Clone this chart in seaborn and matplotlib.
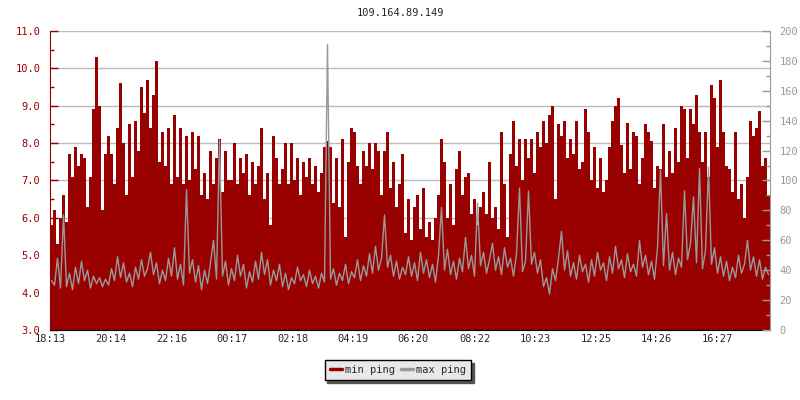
import matplotlib
matplotlib.use("Agg")
import matplotlib.pyplot as plt
import matplotlib.ticker as mticker
from matplotlib.lines import Line2D
import seaborn as sns
import numpy as np
import pandas as pd

title = '109.164.89.149'
start_time = '18:13'
time_ticks = ['18:13', '20:14', '22:16', '00:17', '02:18', '04:19',
              '06:20', '08:22', '10:23', '12:25', '14:26', '16:27']
step_min = 6  # minutes per sample

# min ping (left axis), one value per 6 minutes
min_ping = [
    5.8, 6.2, 5.3, 6.0, 6.6, 5.9, 7.7, 7.1, 7.9, 7.4,
    7.7, 7.6, 6.3, 7.1, 8.9, 10.3, 9.0, 6.2, 7.7, 8.2,
    7.7, 6.9, 8.4, 9.6, 8.0, 6.6, 8.5, 7.1, 8.6, 7.8,
    9.5, 8.8, 9.7, 8.4, 9.3, 10.2, 7.5, 8.3, 7.4, 8.4,
    6.9, 8.75, 7.1, 8.4, 6.9, 8.2, 7.0, 8.3, 7.3, 8.2,
    6.6, 7.2, 6.5, 7.8, 6.9, 7.6, 8.1, 6.7, 7.8, 7.0,
    7.0, 8.0, 6.9, 7.6, 7.2, 7.7, 6.6, 7.5, 6.9, 7.4,
    8.4, 6.5, 7.2, 5.8, 8.2, 7.6, 6.9, 7.3, 8.0, 6.9,
    8.0, 7.0, 7.6, 6.6, 7.5, 7.1, 7.6, 6.9, 7.4, 6.7,
    7.2, 7.9, 8.05, 7.9, 6.4, 7.6, 6.3, 8.1, 5.5, 7.5,
    8.4, 8.3, 7.4, 6.9, 7.8, 7.4, 8.0, 7.3, 8.0, 7.8,
    6.6, 7.8, 8.3, 6.8, 7.5, 6.3, 6.9, 7.7, 5.6, 6.5,
    5.4, 6.3, 6.6, 5.7, 6.8, 5.5, 5.9, 5.4, 6.0, 6.6,
    8.1, 7.5, 6.0, 6.9, 5.8, 7.3, 7.8, 6.6, 7.1, 7.2,
    6.1, 6.5, 5.8, 6.3, 6.7, 6.1, 7.5, 6.0, 6.3, 5.7,
    8.3, 6.9, 5.5, 7.7, 8.6, 7.4, 8.1, 7.0, 8.1, 7.6,
    8.1, 7.2, 8.3, 7.9, 8.6, 8.0, 8.75, 9.0, 6.5, 8.5,
    8.2, 8.6, 7.6, 8.1, 7.7, 8.6, 7.3, 7.5, 8.9, 8.3,
    7.0, 7.9, 6.8, 7.6, 6.7, 7.0, 7.9, 8.6, 9.0, 9.2,
    7.95, 7.2, 8.55, 7.3, 8.3, 8.2, 6.9, 7.6, 8.5, 8.3,
    8.05, 6.8, 7.4, 7.3, 8.5, 7.1, 7.8, 7.2, 8.4, 7.5,
    9.0, 8.9, 7.6, 8.9, 8.5, 9.3, 8.3, 7.5, 8.3, 7.1,
    9.55, 9.2, 7.9, 9.7, 8.3, 7.4, 7.3, 6.7, 8.3, 6.5,
    6.9, 6.0, 7.1, 8.6, 8.2, 8.4, 8.85, 7.4, 7.6, 6.6,
]

# max ping (right axis)
max_ping = [
    33, 30, 48, 28, 77, 29, 38, 27, 42, 31,
    46, 33, 40, 28, 36, 31, 35, 29, 34, 30,
    41, 33, 49, 35, 45, 32, 38, 29, 42, 34,
    47, 36, 41, 52, 37, 45, 31, 40, 33, 48,
    36, 55, 34, 44, 30, 94, 38, 47, 32, 43,
    27, 40, 31, 45, 60, 34, 127, 36, 46, 30,
    41, 33, 50, 36, 44, 28, 39, 32, 46, 34,
    52, 37, 47, 30, 40, 33, 44, 29, 38, 27,
    35, 31, 42, 33, 37, 29, 40, 31, 36, 28,
    38, 32, 191, 34, 41, 30, 38, 33, 44, 31,
    39, 35, 47, 33, 43, 36, 51, 38, 56, 40,
    48, 77, 42, 50, 36, 46, 34, 42, 37, 49,
    36, 45, 33, 52, 38, 47, 35, 44, 32, 50,
    82, 40, 54, 37, 46, 34, 48, 39, 62, 41,
    50, 36, 85, 43, 52, 38, 47, 58, 40, 49,
    37, 55, 42, 48, 36, 51, 95, 39, 46, 93,
    44, 52, 38, 47, 29, 35, 24, 41, 33, 48,
    66, 40, 53, 36, 45, 34, 50, 39, 44, 32,
    47, 36, 52, 40, 45, 33, 49, 38, 56, 41,
    47, 35, 51, 39, 44, 36, 60, 42, 50, 37,
    46, 34, 55, 107, 43, 78, 40, 52, 37, 48,
    42, 93, 47, 58, 89, 45, 108, 41, 53, 109,
    44, 55, 38, 49, 36, 46, 33, 42, 35, 50,
    38, 44, 60, 40, 49, 36, 47, 34, 42, 37,
]


def minutes_from_start(label):
    h, m = map(int, label.split(':'))
    h0, m0 = map(int, start_time.split(':'))
    return (h * 60 + m - (h0 * 60 + m0)) % 1440


n = len(min_ping)
df = pd.DataFrame({
    'edge': np.arange(n) * step_min,
    'mid': np.arange(n) * step_min + step_min / 2,
    'min_ping': min_ping,
    'max_ping': max_ping,
})

sns.set_style('white')
plt.rcParams['font.family'] = ['DejaVu Sans Mono']

red = '#990000'
grey = '#999999'

fig = plt.figure(figsize=(8, 4), dpi=100)
ax = fig.add_axes([50 / 800, 70 / 400, 720 / 800, 299 / 400])

# red area (min ping)
xs = list(df['edge']) + [n * step_min]
ys = list(df['min_ping']) + [min_ping[-1]]
ax.fill_between(xs, 3.0, ys, step='post', color=red, linewidth=0, zorder=2)

ax.set_xlim(0, n * step_min)
ax.set_ylim(3.0, 11.0)
ax.yaxis.set_major_locator(mticker.MultipleLocator(1.0))
ax.yaxis.set_minor_locator(mticker.MultipleLocator(0.5))
ax.yaxis.set_major_formatter(mticker.FormatStrFormatter('%.1f'))
ax.set_xticks([minutes_from_start(t) for t in time_ticks])
ax.set_xticklabels(time_ticks)
ax.grid(axis='y', color='#bbbbbb', linewidth=1)
ax.set_axisbelow(True)
ax.tick_params(axis='y', which='major', direction='in', length=6, width=1,
               color=red, labelcolor=red, labelsize=7.5, pad=7)
ax.tick_params(axis='y', which='minor', direction='in', length=3, width=1, color=red)
ax.tick_params(axis='x', direction='in', length=5, width=1, color='black',
               labelsize=7.5, pad=3)
ax.spines['left'].set_color(red)
ax.spines['bottom'].set_color('black')
ax.spines['top'].set_visible(False)
ax.spines['right'].set_visible(False)

# grey line (max ping) on right axis
ax2 = ax.twinx()
sns.lineplot(data=df, x='mid', y='max_ping', ax=ax2, color=grey, linewidth=1)
ax2.set_ylim(0, 200)
ax2.set_xlim(0, n * step_min)
ax2.yaxis.set_major_locator(mticker.MultipleLocator(20))
ax2.yaxis.set_minor_locator(mticker.MultipleLocator(10))
ax2.set_xlabel('')
ax2.set_ylabel('')
ax.set_xlabel('')
ax.set_ylabel('')
ax2.tick_params(axis='y', which='major', direction='in', length=6, width=1,
                color=grey, labelcolor=grey, labelsize=7.5, pad=7)
ax2.tick_params(axis='y', which='minor', direction='in', length=3, width=1, color=grey)
ax2.spines['right'].set_color(grey)
for s in ['left', 'top', 'bottom']:
    ax2.spines[s].set_visible(False)

fig.text(0.5, 1 - 13 / 400, title, ha='center', va='center', fontsize=7.5)

handles = [Line2D([0], [0], color=red, linewidth=2.5),
           Line2D([0], [0], color=grey, linewidth=2.5)]
leg = fig.legend(handles, ['min ping', 'max ping'], loc='center',
                 bbox_to_anchor=(398 / 800, 30 / 400), ncol=2, fontsize=7.5,
                 frameon=True, fancybox=False, shadow={'color': '#555555', 'alpha': 1},
                 handlelength=1.2, handletextpad=0.3, columnspacing=0.5,
                 borderpad=0.5, borderaxespad=0)
leg.get_frame().set_facecolor('#e8e8e8')
leg.get_frame().set_edgecolor('black')
leg.get_frame().set_linewidth(1)
leg.get_frame().set_alpha(1)

fig.savefig('out.png', dpi=100)
